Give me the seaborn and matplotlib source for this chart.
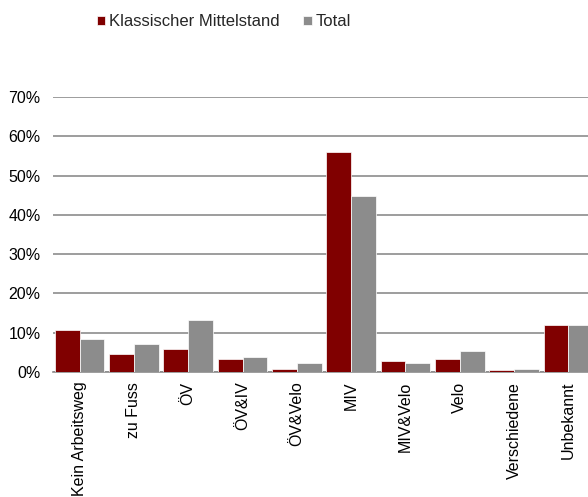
import matplotlib
matplotlib.use("Agg")
import matplotlib.pyplot as plt
import seaborn as sns
import pandas as pd
from matplotlib.ticker import PercentFormatter

# Daten (Anteile in %)
categories = ["Kein Arbeitsweg", "zu Fuss", "ÖV", "ÖV&IV", "ÖV&Velo",
              "MIV", "MIV&Velo", "Velo", "Verschiedene", "Unbekannt"]
mittelstand = [10.7, 4.7, 5.9, 3.4, 0.8, 56.1, 2.8, 3.4, 0.5, 12.0]
total = [8.4, 7.2, 13.3, 3.8, 2.4, 44.8, 2.3, 5.4, 0.8, 12.0]
series = ["Klassischer Mittelstand", "Total"]

df = pd.DataFrame({
    "Kategorie": categories * 2,
    "Serie": [series[0]] * len(categories) + [series[1]] * len(categories),
    "Anteil": mittelstand + total,
})

sns.set_style("white")
plt.rcParams["font.family"] = ["Liberation Sans", "DejaVu Sans"]

fig = plt.figure(figsize=(5.88, 4.97), dpi=100)
ax = fig.add_axes([0.09, 0.2515, 0.91, 0.5535])

sns.barplot(data=df, x="Kategorie", y="Anteil", hue="Serie",
            palette=["#800000", "#8c8c8c"], saturation=1, width=0.91,
            edgecolor="white", linewidth=0.5, ax=ax, zorder=3)

ax.set_ylim(0, 70)
ax.set_yticks(range(0, 71, 10))
ax.yaxis.set_major_formatter(PercentFormatter(decimals=0))
ax.set_xlim(-0.49, 9.36)
ax.grid(axis="y", color="#8c8c8c", linewidth=1.2, zorder=0)
ax.set_axisbelow(True)
for s in ["top", "right", "left"]:
    ax.spines[s].set_visible(False)
ax.spines["bottom"].set_color("#8c8c8c")
ax.spines["bottom"].set_linewidth(1.2)
ax.set_xlabel("")
ax.set_ylabel("")
ax.tick_params(axis="both", length=0, labelsize=11.5, colors="black")
ax.tick_params(axis="x", pad=7)
ax.tick_params(axis="y", pad=9)
plt.setp(ax.get_xticklabels(), rotation=90, ha="center", va="top")

handles, labels = ax.get_legend_handles_labels()
ax.get_legend().remove()
fig.legend(handles, labels, loc="center", bbox_to_anchor=(0.381, 0.956),
           ncol=2, frameon=False, fontsize=12, handlelength=0.5,
           handleheight=0.5, handletextpad=0.25, columnspacing=1.4)

fig.savefig("out.png", dpi=100)
